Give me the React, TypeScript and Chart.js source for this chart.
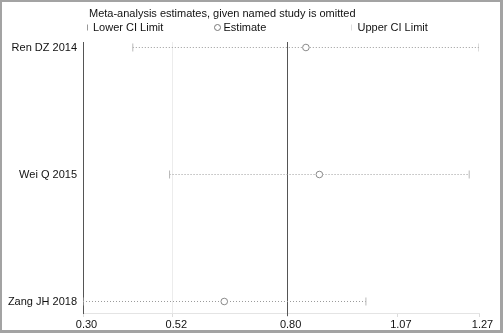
import React, { useEffect, useRef } from "react";
import { Chart, registerables } from "chart.js";

Chart.register(...registerables);

const studies = ["Ren DZ 2014", "Wei Q 2015", "Zang JH 2018"];
const lowerCI = [0.422, 0.512, 0.3];
const estimates = [0.846, 0.879, 0.646];
const upperCI = [1.27, 1.246, 0.993];
const overallEstimate = 0.8;
const xTicks = [0.3, 0.52, 0.8, 1.07, 1.27];
const titleText = "Meta-analysis estimates, given named study is omitted";
const legendLabels = ["Lower CI Limit", "Estimate", "Upper CI Limit"];

const FONT = '"Liberation Sans", Arial, sans-serif';

const overallLinePlugin = {
  id: "overallLine",
  beforeDatasetsDraw(chart: any) {
    const { ctx, chartArea, scales } = chart;
    const x = Math.round(scales.x.getPixelForValue(overallEstimate)) + 0.5;
    ctx.save();
    ctx.strokeStyle = "#555";
    ctx.lineWidth = 1;
    ctx.beginPath();
    ctx.moveTo(x, chartArea.top);
    ctx.lineTo(x, chartArea.bottom + 3);
    ctx.stroke();
    ctx.restore();
  },
};

const legendPlugin = {
  id: "stataLegend",
  afterDraw(chart: any) {
    const { ctx, chartArea } = chart;
    const L = chartArea.left;
    ctx.save();
    ctx.font = `11px ${FONT}`;
    ctx.fillStyle = "#111";
    ctx.textBaseline = "middle";
    ctx.textAlign = "left";
    ctx.fillText(titleText, L + 6, 11.5);
    const y = 25.5;
    ctx.strokeStyle = "#999";
    ctx.lineWidth = 1;
    // lower cap
    ctx.beginPath();
    ctx.moveTo(L + 4.5, y - 3);
    ctx.lineTo(L + 4.5, y + 3);
    ctx.stroke();
    ctx.fillText(legendLabels[0], L + 10, y);
    // estimate circle
    ctx.beginPath();
    ctx.arc(L + 134.5, y, 3, 0, Math.PI * 2);
    ctx.fillStyle = "#fff";
    ctx.fill();
    ctx.strokeStyle = "#777";
    ctx.stroke();
    ctx.fillStyle = "#111";
    ctx.fillText(legendLabels[1], L + 140.5, y);
    // upper cap
    ctx.strokeStyle = "#ddd";
    ctx.beginPath();
    ctx.moveTo(L + 268.5, y - 3);
    ctx.lineTo(L + 268.5, y + 3);
    ctx.stroke();
    ctx.fillText(legendLabels[2], L + 274.5, y);
    ctx.restore();
  },
};

export default function App() {
  const ref = useRef<HTMLCanvasElement | null>(null);
  useEffect(() => {
    if (!ref.current) return;
    const ciSets = studies.map((s, i) => ({
      type: "line" as const,
      label: s,
      data: [
        { x: lowerCI[i], y: i },
        { x: upperCI[i], y: i },
      ],
      borderColor: "#9a9a9a",
      borderWidth: 1,
      borderDash: [1, 2],
      pointStyle: "line" as const,
      rotation: 90,
      pointRadius: 4,
      pointBorderColor: "#b8b8b8",
      pointBorderWidth: 1,
      order: 2,
    }));
    const chart = new Chart(ref.current, {
      type: "scatter",
      data: {
        datasets: [
          ...ciSets,
          {
            label: "Estimate",
            data: studies.map((_, i) => ({ x: estimates[i], y: i })),
            pointStyle: "circle",
            pointRadius: 3.3,
            backgroundColor: "#fff",
            borderColor: "#8a8a8a",
            borderWidth: 1,
            order: 0,
          },
        ],
      },
      options: {
        animation: false,
        responsive: false,
        maintainAspectRatio: false,
        layout: { padding: { top: 40, right: 21, left: 0, bottom: 0 } },
        plugins: {
          legend: { display: false },
          tooltip: { enabled: false },
          title: { display: false },
        },
        scales: {
          x: {
            type: "linear",
            min: 0.3,
            max: 1.27,
            afterBuildTicks: (scale: any) => {
              scale.ticks = xTicks.map((v) => ({ value: v }));
            },
            afterFit: (scale: any) => {
              scale.height = 17;
            },
            grid: {
              color: (c: any) =>
                c.tick && Math.abs(c.tick.value - 0.52) < 1e-6 ? "#ececec" : "rgba(0,0,0,0)",
              tickColor: "#dcdcdc",
              tickLength: 4,
              drawTicks: true,
            },
            border: { color: "#e4e4e4", width: 1 },
            ticks: {
              color: "#111",
              font: { family: FONT, size: 11 },
              padding: 1,
              labelOffset: 3.5,
              maxRotation: 0,
              autoSkip: false,
              callback: (v: any) => Number(v).toFixed(2),
            },
          },
          y: {
            type: "linear",
            reverse: true,
            min: -0.0433,
            max: 2.0906,
            afterBuildTicks: (scale: any) => {
              scale.ticks = studies.map((_, i) => ({ value: i }));
            },
            afterFit: (scale: any) => {
              scale.width = 81;
            },
            grid: { display: false, drawTicks: false },
            border: { color: "#555", width: 1 },
            ticks: {
              color: "#111",
              font: { family: FONT, size: 11 },
              padding: 6,
              autoSkip: false,
              callback: (v: any) => studies[Number(v)] ?? "",
            },
          },
        },
      },
      plugins: [overallLinePlugin, legendPlugin],
    } as any);
    return () => chart.destroy();
  }, []);

  return (
    <div
      style={{
        position: "fixed",
        left: 0,
        top: 0,
        width: 503,
        height: 333,
        background: "#a3a3a3",
      }}
    >
      <div
        style={{
          position: "absolute",
          left: 2,
          top: 2,
          width: 498,
          height: 328,
          background: "#fff",
        }}
      >
        <canvas ref={ref} width={498} height={328} style={{ display: "block", width: 498, height: 328 }} />
      </div>
    </div>
  );
}
